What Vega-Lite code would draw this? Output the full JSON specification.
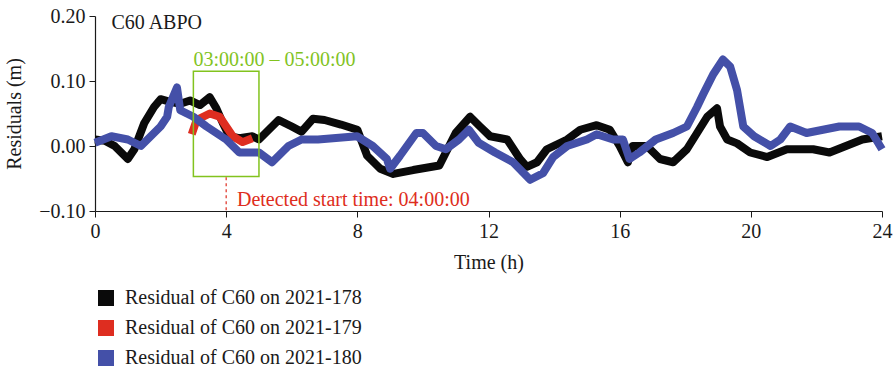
{
  "$schema": "https://vega.github.io/schema/vega-lite/v6.json",
  "width": 787,
  "height": 195,
  "autosize": {"type": "none"},
  "padding": {"left": 95, "top": 16, "right": 13, "bottom": 164},
  "background": "white",
  "config": {
    "view": {"stroke": null},
    "font": "Liberation Serif",
    "axis": {"grid": false, "labelFont": "Liberation Serif", "titleFont": "Liberation Serif", "labelFontSize": 20, "titleFontSize": 20, "titleFontWeight": "normal", "labelColor": "#1a1a1a", "titleColor": "#1a1a1a", "domainColor": "#1a1a1a", "tickColor": "#1a1a1a", "tickSize": 6, "domainWidth": 1.2, "labelFlush": false},
    "legend": {"labelFont": "Liberation Serif", "labelFontSize": 20, "labelColor": "#1a1a1a"}
  },
  "datasets": {
    "res": [
      {"h": 0, "v": 0.01, "series": "Residual of C60 on 2021-178"},
      {"h": 0.3, "v": 0.008, "series": "Residual of C60 on 2021-178"},
      {"h": 0.6, "v": 0.0, "series": "Residual of C60 on 2021-178"},
      {"h": 0.8, "v": -0.01, "series": "Residual of C60 on 2021-178"},
      {"h": 1.0, "v": -0.02, "series": "Residual of C60 on 2021-178"},
      {"h": 1.2, "v": -0.005, "series": "Residual of C60 on 2021-178"},
      {"h": 1.5, "v": 0.035, "series": "Residual of C60 on 2021-178"},
      {"h": 1.8, "v": 0.06, "series": "Residual of C60 on 2021-178"},
      {"h": 2.0, "v": 0.072, "series": "Residual of C60 on 2021-178"},
      {"h": 2.3, "v": 0.068, "series": "Residual of C60 on 2021-178"},
      {"h": 2.6, "v": 0.065, "series": "Residual of C60 on 2021-178"},
      {"h": 2.9, "v": 0.07, "series": "Residual of C60 on 2021-178"},
      {"h": 3.2, "v": 0.063, "series": "Residual of C60 on 2021-178"},
      {"h": 3.5, "v": 0.075, "series": "Residual of C60 on 2021-178"},
      {"h": 3.7, "v": 0.058, "series": "Residual of C60 on 2021-178"},
      {"h": 3.9, "v": 0.035, "series": "Residual of C60 on 2021-178"},
      {"h": 4.1, "v": 0.015, "series": "Residual of C60 on 2021-178"},
      {"h": 4.4, "v": 0.012, "series": "Residual of C60 on 2021-178"},
      {"h": 4.8, "v": 0.015, "series": "Residual of C60 on 2021-178"},
      {"h": 5.0, "v": 0.01, "series": "Residual of C60 on 2021-178"},
      {"h": 5.2, "v": 0.02, "series": "Residual of C60 on 2021-178"},
      {"h": 5.6, "v": 0.04, "series": "Residual of C60 on 2021-178"},
      {"h": 6.0, "v": 0.03, "series": "Residual of C60 on 2021-178"},
      {"h": 6.3, "v": 0.022, "series": "Residual of C60 on 2021-178"},
      {"h": 6.65, "v": 0.042, "series": "Residual of C60 on 2021-178"},
      {"h": 7.0, "v": 0.04, "series": "Residual of C60 on 2021-178"},
      {"h": 7.5, "v": 0.033, "series": "Residual of C60 on 2021-178"},
      {"h": 8.0, "v": 0.025, "series": "Residual of C60 on 2021-178"},
      {"h": 8.3, "v": -0.015, "series": "Residual of C60 on 2021-178"},
      {"h": 8.7, "v": -0.035, "series": "Residual of C60 on 2021-178"},
      {"h": 9.1, "v": -0.043, "series": "Residual of C60 on 2021-178"},
      {"h": 9.7, "v": -0.037, "series": "Residual of C60 on 2021-178"},
      {"h": 10.5, "v": -0.03, "series": "Residual of C60 on 2021-178"},
      {"h": 10.7, "v": -0.01, "series": "Residual of C60 on 2021-178"},
      {"h": 11.0, "v": 0.02, "series": "Residual of C60 on 2021-178"},
      {"h": 11.44, "v": 0.045, "series": "Residual of C60 on 2021-178"},
      {"h": 11.74, "v": 0.03, "series": "Residual of C60 on 2021-178"},
      {"h": 12.05, "v": 0.015, "series": "Residual of C60 on 2021-178"},
      {"h": 12.57, "v": 0.01, "series": "Residual of C60 on 2021-178"},
      {"h": 12.96, "v": -0.02, "series": "Residual of C60 on 2021-178"},
      {"h": 13.17, "v": -0.032, "series": "Residual of C60 on 2021-178"},
      {"h": 13.48, "v": -0.025, "series": "Residual of C60 on 2021-178"},
      {"h": 13.78, "v": -0.005, "series": "Residual of C60 on 2021-178"},
      {"h": 14.4, "v": 0.01, "series": "Residual of C60 on 2021-178"},
      {"h": 14.8, "v": 0.025, "series": "Residual of C60 on 2021-178"},
      {"h": 15.3, "v": 0.032, "series": "Residual of C60 on 2021-178"},
      {"h": 15.7, "v": 0.025, "series": "Residual of C60 on 2021-178"},
      {"h": 16.0, "v": 0.0, "series": "Residual of C60 on 2021-178"},
      {"h": 16.25, "v": -0.025, "series": "Residual of C60 on 2021-178"},
      {"h": 16.4, "v": 0.0, "series": "Residual of C60 on 2021-178"},
      {"h": 16.83, "v": 0.0, "series": "Residual of C60 on 2021-178"},
      {"h": 17.23, "v": -0.02, "series": "Residual of C60 on 2021-178"},
      {"h": 17.63, "v": -0.025, "series": "Residual of C60 on 2021-178"},
      {"h": 18.05, "v": -0.005, "series": "Residual of C60 on 2021-178"},
      {"h": 18.36, "v": 0.02, "series": "Residual of C60 on 2021-178"},
      {"h": 18.67, "v": 0.045, "series": "Residual of C60 on 2021-178"},
      {"h": 18.97, "v": 0.058, "series": "Residual of C60 on 2021-178"},
      {"h": 19.06, "v": 0.03, "series": "Residual of C60 on 2021-178"},
      {"h": 19.28, "v": 0.01, "series": "Residual of C60 on 2021-178"},
      {"h": 19.58, "v": 0.004, "series": "Residual of C60 on 2021-178"},
      {"h": 19.98, "v": -0.01, "series": "Residual of C60 on 2021-178"},
      {"h": 20.5, "v": -0.017, "series": "Residual of C60 on 2021-178"},
      {"h": 21.1, "v": -0.005, "series": "Residual of C60 on 2021-178"},
      {"h": 21.9, "v": -0.005, "series": "Residual of C60 on 2021-178"},
      {"h": 22.4, "v": -0.01, "series": "Residual of C60 on 2021-178"},
      {"h": 22.9, "v": 0.0, "series": "Residual of C60 on 2021-178"},
      {"h": 23.4, "v": 0.01, "series": "Residual of C60 on 2021-178"},
      {"h": 24, "v": 0.015, "series": "Residual of C60 on 2021-178"},
      {"h": 2.95, "v": 0.018, "series": "Residual of C60 on 2021-179"},
      {"h": 3.1, "v": 0.04, "series": "Residual of C60 on 2021-179"},
      {"h": 3.5, "v": 0.05, "series": "Residual of C60 on 2021-179"},
      {"h": 3.8, "v": 0.045, "series": "Residual of C60 on 2021-179"},
      {"h": 4.0, "v": 0.03, "series": "Residual of C60 on 2021-179"},
      {"h": 4.2, "v": 0.015, "series": "Residual of C60 on 2021-179"},
      {"h": 4.5, "v": 0.006, "series": "Residual of C60 on 2021-179"},
      {"h": 4.8, "v": 0.012, "series": "Residual of C60 on 2021-179"},
      {"h": 0, "v": 0.005, "series": "Residual of C60 on 2021-180"},
      {"h": 0.5, "v": 0.015, "series": "Residual of C60 on 2021-180"},
      {"h": 1.0, "v": 0.01, "series": "Residual of C60 on 2021-180"},
      {"h": 1.4, "v": 0.0, "series": "Residual of C60 on 2021-180"},
      {"h": 1.7, "v": 0.015, "series": "Residual of C60 on 2021-180"},
      {"h": 2.0, "v": 0.03, "series": "Residual of C60 on 2021-180"},
      {"h": 2.2, "v": 0.045, "series": "Residual of C60 on 2021-180"},
      {"h": 2.25, "v": 0.06, "series": "Residual of C60 on 2021-180"},
      {"h": 2.5, "v": 0.09, "series": "Residual of C60 on 2021-180"},
      {"h": 2.6, "v": 0.055, "series": "Residual of C60 on 2021-180"},
      {"h": 3.0, "v": 0.045, "series": "Residual of C60 on 2021-180"},
      {"h": 3.4, "v": 0.03, "series": "Residual of C60 on 2021-180"},
      {"h": 4.0, "v": 0.01, "series": "Residual of C60 on 2021-180"},
      {"h": 4.4, "v": -0.01, "series": "Residual of C60 on 2021-180"},
      {"h": 5.0, "v": -0.01, "series": "Residual of C60 on 2021-180"},
      {"h": 5.4, "v": -0.025, "series": "Residual of C60 on 2021-180"},
      {"h": 5.9, "v": 0.0, "series": "Residual of C60 on 2021-180"},
      {"h": 6.3, "v": 0.01, "series": "Residual of C60 on 2021-180"},
      {"h": 6.8, "v": 0.01, "series": "Residual of C60 on 2021-180"},
      {"h": 7.99, "v": 0.015, "series": "Residual of C60 on 2021-180"},
      {"h": 8.47, "v": 0.0, "series": "Residual of C60 on 2021-180"},
      {"h": 8.9, "v": -0.02, "series": "Residual of C60 on 2021-180"},
      {"h": 9.0, "v": -0.035, "series": "Residual of C60 on 2021-180"},
      {"h": 9.3, "v": -0.015, "series": "Residual of C60 on 2021-180"},
      {"h": 9.8, "v": 0.02, "series": "Residual of C60 on 2021-180"},
      {"h": 10.0, "v": 0.02, "series": "Residual of C60 on 2021-180"},
      {"h": 10.4, "v": 0.0, "series": "Residual of C60 on 2021-180"},
      {"h": 10.7, "v": -0.005, "series": "Residual of C60 on 2021-180"},
      {"h": 11.1, "v": 0.01, "series": "Residual of C60 on 2021-180"},
      {"h": 11.4, "v": 0.025, "series": "Residual of C60 on 2021-180"},
      {"h": 11.7, "v": 0.005, "series": "Residual of C60 on 2021-180"},
      {"h": 12.2, "v": -0.01, "series": "Residual of C60 on 2021-180"},
      {"h": 12.75, "v": -0.025, "series": "Residual of C60 on 2021-180"},
      {"h": 13.27, "v": -0.052, "series": "Residual of C60 on 2021-180"},
      {"h": 13.66, "v": -0.042, "series": "Residual of C60 on 2021-180"},
      {"h": 13.97, "v": -0.017, "series": "Residual of C60 on 2021-180"},
      {"h": 14.4, "v": 0.0, "series": "Residual of C60 on 2021-180"},
      {"h": 15.0, "v": 0.01, "series": "Residual of C60 on 2021-180"},
      {"h": 15.3, "v": 0.018, "series": "Residual of C60 on 2021-180"},
      {"h": 15.8, "v": 0.01, "series": "Residual of C60 on 2021-180"},
      {"h": 16.1, "v": 0.01, "series": "Residual of C60 on 2021-180"},
      {"h": 16.3, "v": -0.02, "series": "Residual of C60 on 2021-180"},
      {"h": 16.6, "v": -0.01, "series": "Residual of C60 on 2021-180"},
      {"h": 17.1, "v": 0.01, "series": "Residual of C60 on 2021-180"},
      {"h": 17.63, "v": 0.02, "series": "Residual of C60 on 2021-180"},
      {"h": 18.05, "v": 0.03, "series": "Residual of C60 on 2021-180"},
      {"h": 18.36, "v": 0.06, "series": "Residual of C60 on 2021-180"},
      {"h": 18.55, "v": 0.08, "series": "Residual of C60 on 2021-180"},
      {"h": 18.85, "v": 0.11, "series": "Residual of C60 on 2021-180"},
      {"h": 19.15, "v": 0.133, "series": "Residual of C60 on 2021-180"},
      {"h": 19.37, "v": 0.122, "series": "Residual of C60 on 2021-180"},
      {"h": 19.58, "v": 0.086, "series": "Residual of C60 on 2021-180"},
      {"h": 19.77, "v": 0.03, "series": "Residual of C60 on 2021-180"},
      {"h": 20.1, "v": 0.015, "series": "Residual of C60 on 2021-180"},
      {"h": 20.6, "v": 0.0, "series": "Residual of C60 on 2021-180"},
      {"h": 20.9, "v": 0.01, "series": "Residual of C60 on 2021-180"},
      {"h": 21.2, "v": 0.03, "series": "Residual of C60 on 2021-180"},
      {"h": 21.7, "v": 0.02, "series": "Residual of C60 on 2021-180"},
      {"h": 22.2, "v": 0.025, "series": "Residual of C60 on 2021-180"},
      {"h": 22.7, "v": 0.03, "series": "Residual of C60 on 2021-180"},
      {"h": 23.3, "v": 0.03, "series": "Residual of C60 on 2021-180"},
      {"h": 23.7, "v": 0.02, "series": "Residual of C60 on 2021-180"},
      {"h": 24, "v": -0.005, "series": "Residual of C60 on 2021-180"}
    ]
  },
  "layer": [
    {
      "data": {"name": "res"},
      "transform": [{"filter": "datum.series === 'Residual of C60 on 2021-178'"}],
      "mark": {"type": "line", "strokeWidth": 8, "strokeJoin": "round"},
      "encoding": {
        "x": {"field": "h", "type": "quantitative", "scale": {"domain": [0, 24], "nice": false}, "axis": {"values": [0, 4, 8, 12, 16, 20, 24], "title": "Time (h)", "titlePadding": 11, "labelPadding": 4}},
        "y": {"field": "v", "type": "quantitative", "scale": {"domain": [-0.1, 0.2], "nice": false}, "axis": {"values": [-0.1, -0.05, 0, 0.05, 0.1, 0.15, 0.2], "format": ".2f", "title": "Residuals (m)", "titlePadding": 14, "labelPadding": 4}},
        "color": {"field": "series", "type": "nominal", "scale": {"domain": ["Residual of C60 on 2021-178", "Residual of C60 on 2021-179", "Residual of C60 on 2021-180"], "range": ["#0a0a0a", "#de2d20", "#4450a8"]}, "legend": {"title": null, "orient": "none", "legendX": 1, "legendY": 272, "symbolType": "square", "symbolSize": 256, "rowPadding": 10, "labelOffset": 9, "labelLimit": 400, "padding": 0, "encode": {"symbols": {"update": {"fill": {"scale": "color", "field": "value"}, "stroke": {"value": "transparent"}, "strokeWidth": {"value": 0}, "opacity": {"value": 1}}}}}}
      }
    },
    {
      "data": {"name": "res"},
      "transform": [{"filter": "datum.series === 'Residual of C60 on 2021-179'"}],
      "mark": {"type": "line", "strokeWidth": 8, "strokeJoin": "round"},
      "encoding": {
        "x": {"field": "h", "type": "quantitative"},
        "y": {"field": "v", "type": "quantitative"},
        "color": {"field": "series", "type": "nominal"}
      }
    },
    {
      "data": {"name": "res"},
      "transform": [{"filter": "datum.series === 'Residual of C60 on 2021-180'"}],
      "mark": {"type": "line", "strokeWidth": 8, "strokeJoin": "round"},
      "encoding": {
        "x": {"field": "h", "type": "quantitative"},
        "y": {"field": "v", "type": "quantitative"},
        "color": {"field": "series", "type": "nominal"}
      }
    },
    {
      "data": {"values": [{"x1": 3, "x2": 5, "y1": -0.047, "y2": 0.115}]},
      "mark": {"type": "rect", "fill": null, "fillOpacity": 0, "stroke": "#82c31e", "strokeWidth": 1.5},
      "encoding": {
        "x": {"field": "x1", "type": "quantitative"},
        "x2": {"field": "x2"},
        "y": {"field": "y1", "type": "quantitative"},
        "y2": {"field": "y2"}
      }
    },
    {
      "data": {"values": [{"x": 4, "y1": -0.048, "y2": -0.1}]},
      "mark": {"type": "rule", "stroke": "#de2d20", "strokeDash": [3, 3], "strokeWidth": 1.2},
      "encoding": {
        "x": {"field": "x", "type": "quantitative"},
        "y": {"field": "y1", "type": "quantitative"},
        "y2": {"field": "y2"}
      }
    },
    {
      "data": {"values": [
        {"x": 0.5, "y": 0.18, "label": "C60 ABPO", "c": "k"},
        {"x": 3.0, "y": 0.123, "label": "03:00:00 – 05:00:00", "c": "g"},
        {"x": 4.33, "y": -0.092, "label": "Detected start time: 04:00:00", "c": "r"}
      ]},
      "mark": {"type": "text", "align": "left", "baseline": "alphabetic", "font": "Liberation Serif", "fontSize": 20},
      "encoding": {
        "x": {"field": "x", "type": "quantitative"},
        "y": {"field": "y", "type": "quantitative"},
        "text": {"field": "label"},
        "fill": {"condition": [{"test": "datum.c === 'g'", "value": "#82c31e"}, {"test": "datum.c === 'r'", "value": "#de2d20"}], "value": "#1a1a1a"}
      }
    }
  ]
}
